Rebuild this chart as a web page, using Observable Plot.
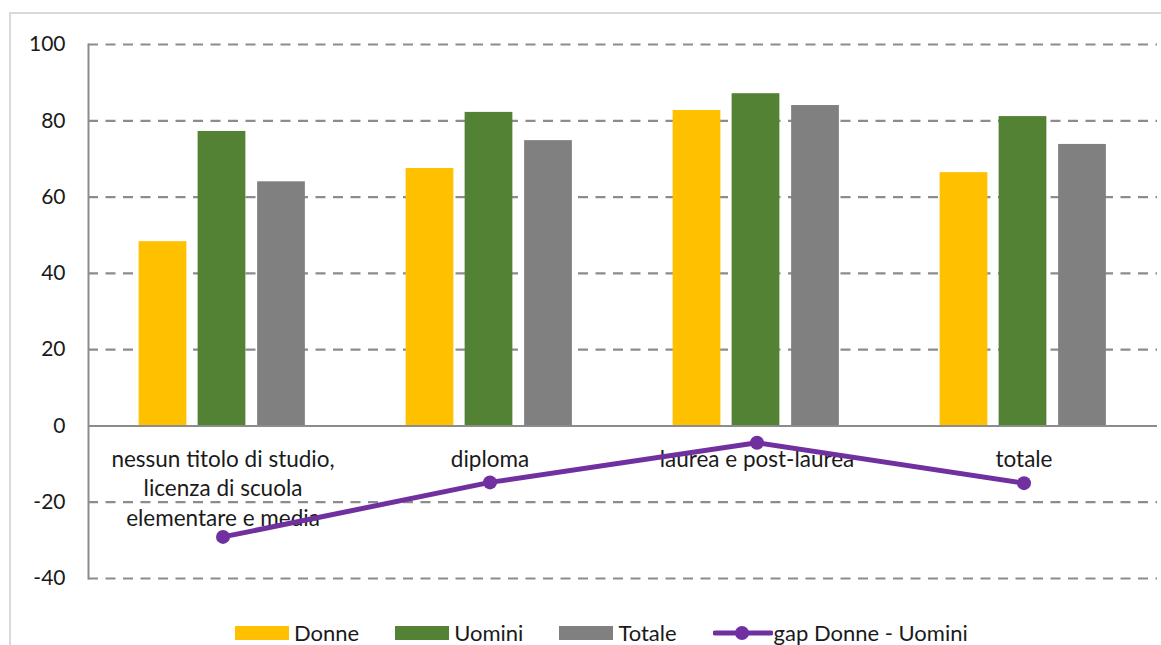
<!DOCTYPE html>
<html>
<head>
<meta charset="utf-8">
<script src="https://cdn.jsdelivr.net/npm/d3@7"></script>
<script src="https://cdn.jsdelivr.net/npm/@observablehq/plot@0.6"></script>
<style>
  body { margin: 0; background: #fff; overflow: hidden; font-family: Lato, sans-serif; }
  #wrap { position: relative; width: 1161px; height: 645px; overflow: hidden; background: #fff; }
  #frame { position: absolute; left: 9px; top: 12px; width: 1200px; height: 700px; border: 2px solid #d9d9d9; box-sizing: border-box; }
  #chart { position: absolute; left: 0; top: 0; }
  #legend { position: absolute; top: 619px; left: 235px; display: flex; align-items: center; font-size: 22px; color: #1a1a1a; white-space: nowrap; }
  .item { display: flex; align-items: center; margin-right: 36px; }
  .sw { width: 54px; height: 14px; margin-right: 5px; }
  .item svg { margin-right: 1px; }
</style>
</head>
<body>
<div id="wrap">
  <div id="frame"></div>
  <div id="chart"></div>
  <div id="legend"></div>
</div>
<script>
const categories = ["nessun titolo di studio,\nlicenza di scuola\nelementare e media", "diploma", "laurea e post-laurea", "totale"];
const series = ["Donne", "Uomini", "Totale"];
const donne = [48.3, 67.5, 82.7, 66.4];
const uomini = [77.2, 82.2, 87.1, 81.1];
const totale = [64.0, 74.8, 84.0, 73.8];
const gap = [-29.1, -14.8, -4.4, -15.0];
const gapLabel = "gap Donne - Uomini";
const yTicks = [-40, -20, 0, 20, 40, 60, 80, 100];

const colors = ["#FFC000", "#548235", "#808080"];
const gapColor = "#7030A0";
const gridColor = "#8c8c8c";

const W = 1161, H = 600, mL = 88, mR = 4, mT = 44, mB = 22;
const bw = (W - mL - mR) / categories.length;
const barW = 48;
const offsets = [-60, -1, 58.5];

const valuesBySeries = [donne, uomini, totale];
const barMarks = series.map((s, j) => {
  const rows = categories.map((c, i) => ({cat: c, serie: s, value: valuesBySeries[j][i]}));
  return Plot.barY(rows, {
    x: "cat", y: "value", fill: colors[j],
    insetLeft: bw / 2 + offsets[j] - barW / 2,
    insetRight: bw / 2 - offsets[j] - barW / 2
  });
});
const gapRows = categories.map((c, i) => ({cat: c, value: gap[i]}));

const plot = Plot.plot({
  width: W, height: H,
  marginLeft: mL, marginRight: mR, marginTop: mT, marginBottom: mB,
  style: {fontFamily: "Lato, sans-serif", color: "#1a1a1a", background: "transparent"},
  x: {domain: categories, padding: 0, axis: null},
  y: {domain: [-40, 100], label: null},
  marks: [
    Plot.ruleY(yTicks.filter(v => v !== 0), {stroke: gridColor, strokeWidth: 2.2, strokeDasharray: "10,7.5"}),
    Plot.axisY({ticks: yTicks, tickSize: 0, tickPadding: 23, fontSize: 21, label: null, tickFormat: d => String(d).replace("−", "-")}),
    ...barMarks,
    Plot.ruleY([0], {stroke: gridColor, strokeWidth: 2}),
    Plot.frame({anchor: "left", stroke: gridColor, strokeWidth: 2}),
    Plot.text(categories, {x: d => d, y: () => 0, text: d => d, lineAnchor: "top", dy: 20, fontSize: 22.5, lineHeight: 1.31, fill: "#1a1a1a"}),
    Plot.line(gapRows, {x: "cat", y: "value", stroke: gapColor, strokeWidth: 5}),
    Plot.dot(gapRows, {x: "cat", y: "value", r: 7, fill: gapColor})
  ]
});
document.getElementById("chart").appendChild(plot);

const legend = document.getElementById("legend");
series.forEach((s, j) => {
  const it = document.createElement("div");
  it.className = "item";
  it.innerHTML = `<div class="sw" style="background:${colors[j]}"></div><span>${s}</span>`;
  legend.appendChild(it);
});
const it = document.createElement("div");
it.className = "item";
it.innerHTML = `<svg width="60" height="16"><line x1="2" y1="8" x2="58" y2="8" stroke="${gapColor}" stroke-width="5" stroke-linecap="round"/><circle cx="29" cy="8" r="7" fill="${gapColor}"/></svg><span>${gapLabel}</span>`;
legend.appendChild(it);
</script>
</body>
</html>
